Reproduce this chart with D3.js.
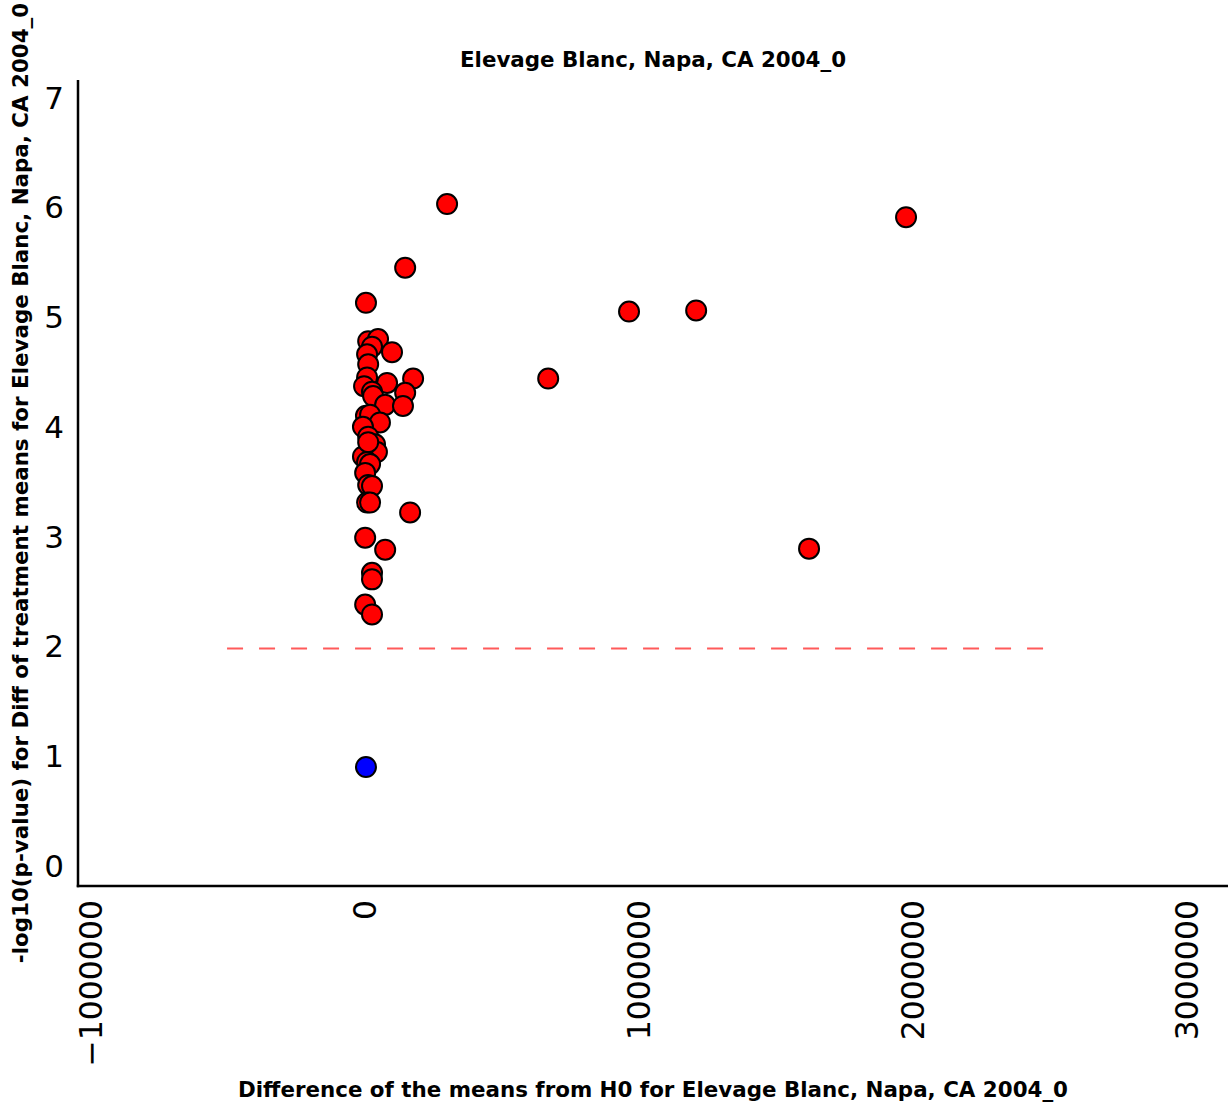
<!DOCTYPE html>
<html>
<head>
<meta charset="utf-8">
<script src="https://cdn.jsdelivr.net/npm/d3@7"></script>
<style>
  html, body { margin: 0; padding: 0; background: #fff; }
  text { font-family: "DejaVu Sans", sans-serif; }
</style>
</head>
<body>
<svg id="chart" width="1230" height="1106"></svg>
<script>
// ---- Data ----
const chartTitle = "Elevage Blanc, Napa, CA 2004_0";
const xLabel = "Difference of the means from H0 for Elevage Blanc, Napa, CA 2004_0";
const yLabel = "-log10(p-value) for Diff of treatment means for Elevage Blanc, Napa, CA 2004_0";

// significant points (red): difference of means
const sigDiff = [
  7000, 15000, 51000, 29000, 11000, 102000, 15000, 11000, 179000, 84000,
  0, 29000, 150000, 33000, 77000, 142000, 7000, 22000, 58000, -4000,
  15000, 40000, 47000, -4000, 15000, 11000, 22000, 4000, 15000, 29000,
  11000, 22000, 168000, 4000, 77000, 29000, 29000, 4000, 29000,
  303000, 1978000, 150000, 967000, 1212000, 672000, 1624000
];
// significant points (red): -log10(p)
const sigLogP = [
  5.15, 4.80, 4.82, 4.75, 4.68, 4.70, 4.59, 4.47, 4.46, 4.42,
  4.39, 4.34, 4.33, 4.30, 4.22, 4.21, 4.12, 4.13, 4.06, 4.02,
  3.93, 3.86, 3.79, 3.75, 3.88, 3.70, 3.68, 3.60, 3.49, 3.48,
  3.33, 3.33, 3.24, 3.01, 2.90, 2.69, 2.63, 2.40, 2.31,
  6.05, 5.93, 5.47, 5.07, 5.08, 4.46, 2.91
];
// non-significant points (blue)
const nsDiff = [7000];
const nsLogP = [0.92];

const threshold = 2;            // -log10(0.01)
const thresholdSpan = [-500000, 2500000];

const xTicks = [-1000000, 0, 1000000, 2000000, 3000000];
const yTicks = [0, 1, 2, 3, 4, 5, 6, 7];

// ---- Layout ----
const svg = d3.select("#chart");
const mLeft = 78, mRight = 1228, mTop = 80, mBottom = 886;

const x = d3.scaleLinear().domain([-1044000, 3153000]).range([mLeft, mRight]);
const y = d3.scaleLinear().domain([-0.164, 7.18]).range([mBottom, mTop]);

// threshold dashed line
svg.append("line")
  .attr("x1", x(thresholdSpan[0])).attr("x2", x(thresholdSpan[1]))
  .attr("y1", y(threshold)).attr("y2", y(threshold))
  .attr("stroke", "#ff5a5a").attr("stroke-width", 2)
  .attr("stroke-dasharray", "16,16");

// points
const sigPts = sigDiff.map((d, i) => ({x: d, y: sigLogP[i]}));
const nsPts = nsDiff.map((d, i) => ({x: d, y: nsLogP[i]}));

svg.append("g").selectAll("circle").data(sigPts).join("circle")
  .attr("cx", d => x(d.x)).attr("cy", d => y(d.y)).attr("r", 10)
  .attr("fill", "#ff0000").attr("stroke", "#000").attr("stroke-width", 2);

svg.append("g").selectAll("circle").data(nsPts).join("circle")
  .attr("cx", d => x(d.x)).attr("cy", d => y(d.y)).attr("r", 10)
  .attr("fill", "#0000ff").attr("stroke", "#000").attr("stroke-width", 2);

// axes
const fmt = d3.format("d");
const yAxis = svg.append("g").attr("transform", `translate(${mLeft},0)`)
  .call(d3.axisLeft(y).tickValues(yTicks).tickFormat(fmt).tickSize(0).tickPadding(14));
yAxis.select(".domain").remove();
yAxis.selectAll("text").attr("font-size", 31).attr("font-family", "DejaVu Sans")
  .attr("fill", "#000").attr("dy", "0.27em");

const xAxis = svg.append("g").attr("transform", `translate(0,${mBottom})`)
  .call(d3.axisBottom(x).tickValues(xTicks).tickFormat(fmt).tickSize(0));
xAxis.select(".domain").remove();
xAxis.selectAll("text")
  .attr("font-size", 31.5).attr("font-family", "DejaVu Sans").attr("fill", "#000")
  .attr("transform", "rotate(-90)")
  .attr("text-anchor", "end")
  .attr("x", -14).attr("y", 0).attr("dy", "0.36em");

// spines
svg.append("line").attr("x1", mLeft).attr("x2", mLeft).attr("y1", mTop).attr("y2", mBottom + 1.25)
  .attr("stroke", "#000").attr("stroke-width", 2.5);
svg.append("line").attr("x1", mLeft - 1.25).attr("x2", mRight).attr("y1", mBottom).attr("y2", mBottom)
  .attr("stroke", "#000").attr("stroke-width", 2.5);

// title and labels
svg.append("text").attr("x", (mLeft + mRight) / 2).attr("y", 67)
  .attr("text-anchor", "middle").attr("font-weight", "bold").attr("font-size", 21.4)
  .text(chartTitle);

svg.append("text").attr("x", (mLeft + mRight) / 2).attr("y", 1097)
  .attr("text-anchor", "middle").attr("font-weight", "bold").attr("font-size", 21.4)
  .text(xLabel);

svg.append("text")
  .attr("transform", `translate(28,${(mTop + mBottom) / 2}) rotate(-90)`)
  .attr("text-anchor", "middle").attr("font-weight", "bold").attr("font-size", 21.4)
  .text(yLabel);
</script>
</body>
</html>
